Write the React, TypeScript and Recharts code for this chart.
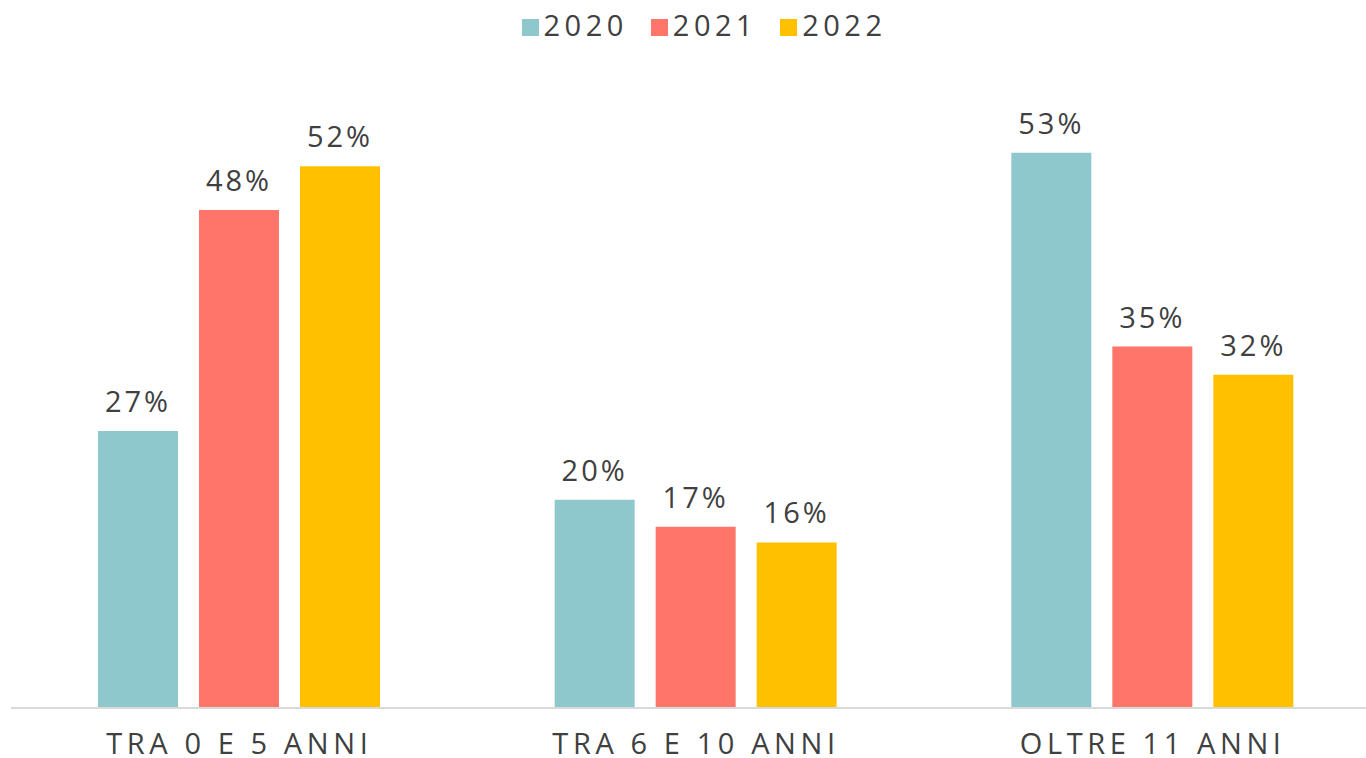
import { BarChart, Bar, XAxis, YAxis, LabelList } from "recharts";

const categories = ["TRA 0 E 5 ANNI", "TRA 6 E 10 ANNI", "OLTRE 11 ANNI"];
const years = ["2020", "2021", "2022"];
const values2020 = [26.6, 20.0, 53.3];
const values2021 = [47.8, 17.4, 34.7];
const values2022 = [52.0, 15.9, 32.0];
const labels2020 = ["27%", "20%", "53%"];
const labels2021 = ["48%", "17%", "35%"];
const labels2022 = ["52%", "16%", "32%"];

const colors = ["#8FC8CC", "#FF7569", "#FFC000"];
const textColor = "#404040";
const font = "'Open Sans', sans-serif";

const chartData = categories.map((name, i) => ({
  name,
  y2020: values2020[i],
  y2021: values2021[i],
  y2022: values2022[i],
  l2020: labels2020[i],
  l2021: labels2021[i],
  l2022: labels2022[i],
}));

function LegendBox() {
  return (
    <div
      style={{
        position: "absolute",
        top: 10,
        left: 4,
        width: 1400,
        display: "flex",
        justifyContent: "center",
        alignItems: "baseline",
        fontFamily: font,
      }}
    >
      {years.map((y, i) => (
        <div key={y} style={{ display: "flex", alignItems: "baseline", marginRight: i < 2 ? 23 : 0 }}>
          <span style={{ display: "inline-block", width: 17, height: 17, background: colors[i], marginRight: 5 }} />
          <span style={{ fontSize: 29, color: textColor, letterSpacing: 4.5, lineHeight: "30px" }}>{y}</span>
        </div>
      ))}
    </div>
  );
}

export default function App() {
  const keys = ["y2020", "y2021", "y2022"];
  const labelKeys = ["l2020", "l2021", "l2022"];
  return (
    <div style={{ position: "absolute", left: 0, top: 0, width: 1366, height: 758, overflow: "hidden", background: "#fff" }}>
      <BarChart
        width={1381}
        height={758}
        data={chartData}
        margin={{ top: 83, right: 0, left: 11, bottom: 0 }}
        barCategoryGap={87}
        barGap={21}
      >
        <XAxis
          dataKey="name"
          height={50}
          axisLine={{ stroke: "#D9D9D9", strokeWidth: 2 }}
          tickLine={false}
          tick={{ fill: textColor, fontSize: 29, fontFamily: font, letterSpacing: 4.6 }}
          tickMargin={19}
        />
        <YAxis hide domain={[0, 60]} />
        {keys.map((k, i) => (
          <Bar key={k} dataKey={k} name={years[i]} fill={colors[i]} isAnimationActive={false}>
            <LabelList
              dataKey={labelKeys[i]}
              position="top"
              offset={19}
              style={{ fill: textColor, fontSize: 29, fontFamily: font, letterSpacing: 3 }}
            />
          </Bar>
        ))}
      </BarChart>
      <LegendBox />
    </div>
  );
}
